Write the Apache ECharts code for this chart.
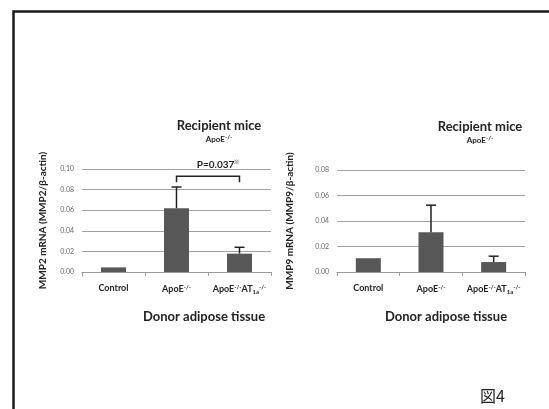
<!DOCTYPE html>
<html>
<head>
<meta charset="utf-8">
<script src="https://cdn.jsdelivr.net/npm/echarts@6/dist/echarts.min.js"></script>
<style>
  html, body { margin: 0; padding: 0; background: #fff; }
  #chart { width: 549px; height: 409px; }
</style>
</head>
<body>
<div id="chart"></div>
<script>
// カテゴリ
var categories = ['Control', 'ApoE{sup|-/-}', 'ApoE{sup|-/-}AT{sub|1a}{sup|-/-}'];
// MMP2 (左)
var mmp2Values = [0.0045, 0.062, 0.0178];
var mmp2ErrUp = [0, 0.0205, 0.0062];
var mmp2Ticks = { min: 0, max: 0.1, interval: 0.02 };
// MMP9 (右)
var mmp9Values = [0.0108, 0.0312, 0.0078];
var mmp9ErrUp = [0, 0.0212, 0.0046];
var mmp9Ticks = { min: 0, max: 0.08, interval: 0.02 };
// 有意差ブラケット: [from, to, y]
var bracket = [[1, 2, 0.093]];
var pLabel = 'P=0.037';

var FONT = 'Lato, "Open Sans", sans-serif';
var barColor = '#575757';

var chart = echarts.init(document.getElementById('chart'));

var catLabelRich = {
	sup: { fontFamily: FONT, fontSize: 6, fontWeight: 'bold', color: '#222', padding: [0, 0, 5, 0] },
	sub: { fontFamily: FONT, fontSize: 6, fontWeight: 'bold', color: '#222', padding: [5, 0, 0, 0] }
};

function errData(vals, errs) {
	var out = [];
	for (var i = 0; i < vals.length; i++) {
		if (errs[i] > 0) out.push([i, vals[i], vals[i] + errs[i]]);
	}
	return out;
}

function renderErr(params, api) {
	var base = api.coord([api.value(0), api.value(1)]);
	var top = api.coord([api.value(0), api.value(2)]);
	var half = 5;
	return {
		type: 'group',
		children: [
			{ type: 'line', shape: { x1: base[0], y1: base[1], x2: top[0], y2: top[1] }, style: { stroke: '#222', lineWidth: 1.5 } },
			{ type: 'line', shape: { x1: top[0] - half, y1: top[1], x2: top[0] + half, y2: top[1] }, style: { stroke: '#222', lineWidth: 1.5 } }
		]
	};
}

function renderBracket(params, api) {
	var a = api.coord([api.value(0), api.value(2)]);
	var b = api.coord([api.value(1), api.value(2)]);
	var drop = 6;
	return {
		type: 'polyline',
		shape: { points: [[a[0], a[1] + drop], [a[0], a[1]], [b[0], b[1]], [b[0], b[1] + drop]] },
		style: { stroke: '#222', lineWidth: 1.5, fill: null }
	};
}

function xAxisCfg(idx) {
	return {
		type: 'category',
		gridIndex: idx,
		data: categories,
		axisLine: { lineStyle: { color: '#999', width: 1 } },
		axisTick: { show: true, length: 4, lineStyle: { color: '#999' } },
		axisLabel: {
			interval: 0,
			hideOverlap: false,
			margin: 12,
			fontFamily: FONT, fontSize: 9, fontWeight: 'bold', color: '#222',
			rich: catLabelRich
		}
	};
}

function yAxisCfg(idx, ticks, name, gap) {
	return {
		type: 'value',
		gridIndex: idx,
		min: ticks.min, max: ticks.max, interval: ticks.interval,
		name: name,
		nameLocation: 'middle',
		nameRotate: 90,
		nameGap: gap,
		nameTextStyle: { fontFamily: FONT, fontSize: 10, fontWeight: 'bold', color: '#222' },
		axisLine: { show: false },
		axisTick: { show: false },
		axisLabel: {
			margin: 8,
			fontFamily: FONT, fontSize: 7, color: '#666',
			formatter: function(v) { return v.toFixed(2); }
		},
		splitLine: { lineStyle: { color: '#a0a0a0', width: 1 } }
	};
}

var subRich = { sup: { fontFamily: FONT, fontSize: 6, fontWeight: 'bold', color: '#222', padding: [0, 0, 5, 0] } };

var option = {
	animation: false,
	backgroundColor: '#fff',
	title: [
		{
			text: 'Recipient mice', subtext: 'ApoE{sup|-/-}',
			left: 214, top: 114, textAlign: 'center', itemGap: 2,
			textStyle: { fontFamily: FONT, fontSize: 13, fontWeight: 'bold', color: '#222' },
			subtextStyle: { fontFamily: FONT, fontSize: 8, fontWeight: 'bold', color: '#222', rich: subRich }
		},
		{
			text: 'Recipient mice', subtext: 'ApoE{sup|-/-}',
			left: 475, top: 115, textAlign: 'center', itemGap: 2,
			textStyle: { fontFamily: FONT, fontSize: 13, fontWeight: 'bold', color: '#222' },
			subtextStyle: { fontFamily: FONT, fontSize: 8, fontWeight: 'bold', color: '#222', rich: subRich }
		},
		{
			text: pLabel + '{sup|※}',
			left: 213, top: 154, textAlign: 'center',
			textStyle: { fontFamily: FONT, fontSize: 10, fontWeight: 'bold', color: '#222',
				rich: { sup: { fontSize: 6, color: '#888', padding: [0, 0, 6, 0] } } }
		}
	],
	grid: [
		{ left: 82, width: 189, top: 169, height: 103 },
		{ left: 337, width: 188, top: 170, height: 102 }
	],
	xAxis: [xAxisCfg(0), xAxisCfg(1)],
	yAxis: [
		yAxisCfg(0, mmp2Ticks, 'MMP2 mRNA (MMP2/β-actin)', 34),
		yAxisCfg(1, mmp9Ticks, 'MMP9 mRNA (MMP9/β-actin)', 42)
	],
	series: [
		{ type: 'bar', xAxisIndex: 0, yAxisIndex: 0, data: mmp2Values, barWidth: 25, itemStyle: { color: barColor } },
		{ type: 'bar', xAxisIndex: 1, yAxisIndex: 1, data: mmp9Values, barWidth: 25, itemStyle: { color: barColor } },
		{ type: 'custom', xAxisIndex: 0, yAxisIndex: 0, data: errData(mmp2Values, mmp2ErrUp), renderItem: renderErr, z: 3 },
		{ type: 'custom', xAxisIndex: 1, yAxisIndex: 1, data: errData(mmp9Values, mmp9ErrUp), renderItem: renderErr, z: 3 },
		{ type: 'custom', xAxisIndex: 0, yAxisIndex: 0, data: bracket, renderItem: renderBracket, z: 3 }
	],
	graphic: [
		{ type: 'rect', left: 11, top: 9, shape: { width: 600, height: 460 }, style: { fill: null, stroke: '#1a1a1a', lineWidth: 2.5 } },
		{ type: 'text', left: 143, top: 310, style: { text: 'Donor adipose tissue', font: 'bold 13px ' + FONT, fill: '#222' } },
		{ type: 'text', left: 385, top: 310, style: { text: 'Donor adipose tissue', font: 'bold 13px ' + FONT, fill: '#222' } },
		{ type: 'text', left: 480, top: 388, style: { text: '図4', font: '16px "Noto Sans CJK JP", sans-serif', fill: '#222' } }
	]
};

chart.setOption(option);
</script>
</body>
</html>
